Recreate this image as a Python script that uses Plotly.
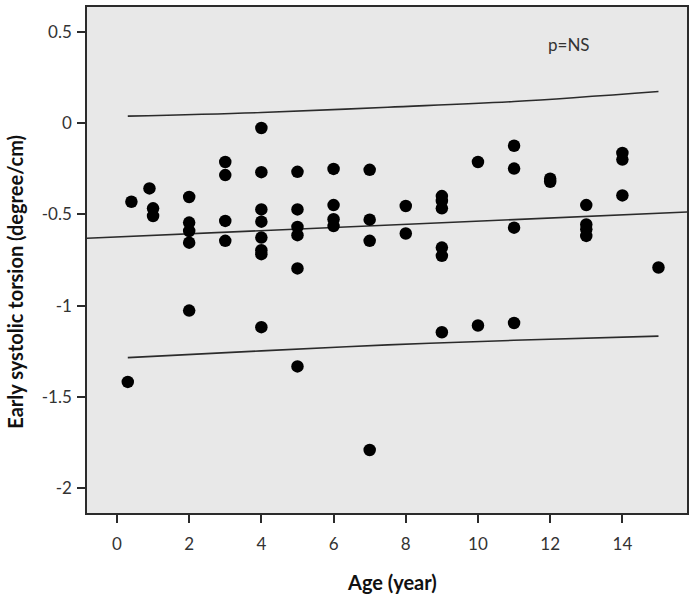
import plotly.graph_objects as go

# ---- data ----
age = [0.3, 0.4, 0.9, 1, 1,
       2, 2, 2, 2, 2,
       3, 3, 3, 3,
       4, 4, 4, 4, 4, 4, 4, 4,
       5, 5, 5, 5, 5, 5,
       6, 6, 6, 6,
       7, 7, 7, 7,
       8, 8,
       9, 9, 9, 9, 9, 9,
       10, 10,
       11, 11, 11, 11,
       12, 12,
       13, 13, 13, 13,
       14, 14, 14,
       15]
torsion = [-1.418, -0.431, -0.358, -0.467, -0.509,
           -0.405, -0.545, -0.591, -0.655, -1.027,
           -0.213, -0.285, -0.536, -0.645,
           -0.027, -0.269, -0.473, -0.540, -0.627, -0.696, -0.718, -1.118,
           -0.267, -0.473, -0.569, -0.614, -0.796, -1.333,
           -0.251, -0.449, -0.527, -0.564,
           -0.256, -0.529, -0.645, -1.791,
           -0.454, -0.605,
           -0.400, -0.427, -0.467, -0.682, -0.727, -1.146,
           -0.213, -1.109,
           -0.124, -0.249, -0.573, -1.095,
           -0.305, -0.322,
           -0.449, -0.555, -0.582, -0.618,
           -0.164, -0.200, -0.396,
           -0.791]

fit_x = [-0.83, 15.8]
fit_y = [-0.631, -0.487]

band_x = [0.3, 4, 7.5, 11, 15]
upper_y = [0.038, 0.058, 0.087, 0.118, 0.173]
lower_y = [-1.285, -1.248, -1.215, -1.190, -1.167]

x_ticks = [0, 2, 4, 6, 8, 10, 12, 14]
y_ticks = [0.5, 0, -0.5, -1, -1.5, -2]
y_tick_text = ["0.5", "0", "-0.5", "-1", "-1.5", "-2"]

FONT = "Lato, 'Open Sans', sans-serif"
LINE = "#2b2b2b"

fig = go.Figure()
fig.add_trace(go.Scatter(x=band_x, y=upper_y, mode="lines",
                         line=dict(color=LINE, width=1.6, shape="spline"),
                         hoverinfo="skip"))
fig.add_trace(go.Scatter(x=band_x, y=lower_y, mode="lines",
                         line=dict(color=LINE, width=1.6, shape="spline"),
                         hoverinfo="skip"))
fig.add_trace(go.Scatter(x=fit_x, y=fit_y, mode="lines",
                         line=dict(color=LINE, width=1.6), hoverinfo="skip"))
fig.add_trace(go.Scatter(x=age, y=torsion, mode="markers",
                         marker=dict(color="black", size=12.5,
                                     line=dict(width=0))))

fig.update_layout(
    width=694, height=599,
    margin=dict(l=87, r=7, t=5, b=86),
    paper_bgcolor="white",
    plot_bgcolor="#e8e8e8",
    showlegend=False,
    font=dict(family=FONT, color="#222222", size=14),
    xaxis=dict(range=[-0.83, 15.79], tickvals=x_ticks,
               showgrid=False, zeroline=False,
               showline=True, linecolor=LINE, linewidth=1.5, mirror=True,
               ticks="outside", ticklen=8, tickwidth=1.5, tickcolor=LINE,
               ticklabelstandoff=7,
               tickfont=dict(family=FONT, size=17, color="#333333")),
    yaxis=dict(range=[-2.136, 0.636], tickvals=y_ticks, ticktext=y_tick_text,
               showgrid=False, zeroline=False,
               showline=True, linecolor=LINE, linewidth=1.5, mirror=True,
               ticks="outside", ticklen=8, tickwidth=1.5, tickcolor=LINE,
               ticklabelstandoff=2,
               tickfont=dict(family=FONT, size=17, color="#333333")),
    annotations=[
        dict(text="p=NS", x=12.53, y=0.429, xref="x", yref="y",
             showarrow=False, font=dict(family=FONT, size=17, color="#333333")),
        dict(text="<b>Age (year)</b>", x=0.508, y=-0.136, xref="paper",
             yref="paper", showarrow=False, xanchor="center", yanchor="middle",
             font=dict(family=FONT, size=20, color="#111111")),
        dict(text="<b>Early systolic torsion (degree/cm)</b>", x=-0.12,
             y=0.457, xref="paper", yref="paper", showarrow=False,
             textangle=-90, xanchor="center", yanchor="middle",
             font=dict(family=FONT, size=20, color="#111111")),
    ],
)

fig.write_html("out.html",
               config={"displayModeBar": False},
               post_script="document.body.style.margin='0';"
                           "document.body.style.overflow='hidden';")
